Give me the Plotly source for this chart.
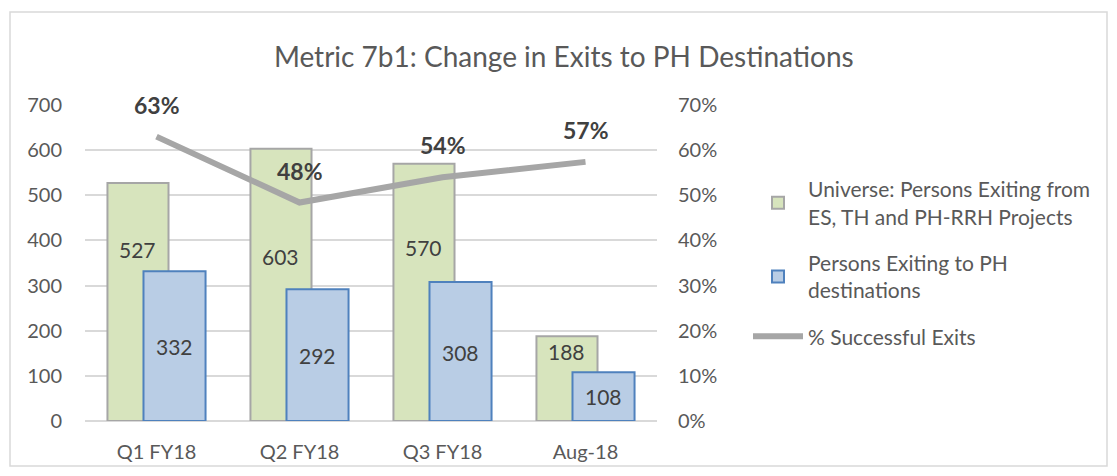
import plotly.graph_objects as go

categories = ["Q1 FY18", "Q2 FY18", "Q3 FY18", "Aug-18"]
universe = [527, 603, 570, 188]
exits_ph = [332, 292, 308, 108]
pct_success = [0.63, 0.484, 0.54, 0.574]
pct_labels = ["63%", "48%", "54%", "57%"]

# where the value labels sit inside the bars (left-axis units)
universe_label_y = [379, 364, 384, 155]
exits_label_y = [164, 144, 151, 55]

FONT = "Lato"
TXT = "#595959"

g_off, g_w = -0.343, 0.427
b_off, b_w = -0.091, 0.434

# plot area geometry (figure pixels; page adds 8px body margin)
L, T, PW, PH = 77, 97, 572, 316

fig = go.Figure()
fig.add_trace(go.Bar(
    x=list(range(4)), y=universe, name="Universe: Persons Exiting from<br>ES, TH and PH-RRH Projects",
    offset=g_off, width=g_w, legendgroup="a",
    marker=dict(color="#D7E4BD", line=dict(color="#A6A6A6", width=2)),
))
fig.add_trace(go.Bar(
    x=list(range(4)), y=exits_ph, name="Persons Exiting to PH<br>destinations",
    offset=b_off, width=b_w, legendgroup="b",
    marker=dict(color="#B9CDE5", line=dict(color="#4F81BD", width=2)),
))
fig.add_trace(go.Scatter(
    x=list(range(4)), y=pct_success, name="% Successful Exits", yaxis="y2",
    mode="lines", line=dict(color="#A6A6A6", width=6), legendgroup="c",
))

ann = []
for i in range(4):
    ann.append(dict(x=i + g_off + g_w / 2, y=universe_label_y[i], xref="x", yref="y",
                    text=str(universe[i]), showarrow=False,
                    font=dict(family=FONT, size=21, color="#404040")))
    ann.append(dict(x=i + b_off + b_w / 2, y=exits_label_y[i], xref="x", yref="y",
                    text=str(exits_ph[i]), showarrow=False,
                    font=dict(family=FONT, size=21, color="#404040")))
    ann.append(dict(x=i, y=pct_success[i], xref="x", yref="y2", yshift=32,
                    text="<b>" + pct_labels[i] + "</b>", showarrow=False,
                    font=dict(family=FONT, size=23, color="#404040")))

fig.update_layout(
    width=1117, height=476,
    margin=dict(l=L, r=1117 - L - PW, t=T, b=476 - T - PH),
    paper_bgcolor="white", plot_bgcolor="white",
    barmode="overlay",
    font=dict(family=FONT, size=20, color=TXT),
    title=dict(text="Metric 7b1: Change in Exits to PH Destinations",
               font=dict(family=FONT, size=28, color=TXT),
               xref="paper", x=0.837, xanchor="center",
               yref="container", y=1 - 49 / 476, yanchor="middle"),
    xaxis=dict(range=[-0.5, 3.5], tickmode="array", tickvals=list(range(4)), ticktext=categories,
               showgrid=False, zeroline=False, showline=False, ticks="",
               ticklabelstandoff=17, tickfont=dict(size=20, color=TXT)),
    yaxis=dict(range=[0, 700], dtick=100, showgrid=True, gridcolor="#D9D9D9", gridwidth=1.5,
               zeroline=True, zerolinecolor="#D9D9D9", zerolinewidth=1.5,
               ticks="", ticklabelstandoff=22, tickfont=dict(size=20, color=TXT)),
    yaxis2=dict(range=[0, 0.7], dtick=0.1, tickformat=".0%", overlaying="y", side="right",
                showgrid=False, zeroline=False, ticks="", ticklabelstandoff=20,
                tickfont=dict(size=20, color=TXT)),
    legend=dict(x=(740 - L) / PW, y=(T + PH - 161) / PH, xanchor="left", yanchor="top",
                font=dict(family=FONT, size=21, color=TXT), traceorder="grouped",
                bgcolor="rgba(0,0,0,0)", tracegroupgap=16, itemwidth=50),
    annotations=ann,
    shapes=[dict(type="rect", xref="paper", yref="paper",
                 x0=(2 - L) / PW, x1=(1099 - L) / PW,
                 y0=(T + PH - 458) / PH, y1=(T + PH - 4) / PH,
                 line=dict(color="#D9D9D9", width=1.5), layer="below")],
    showlegend=True,
)

fig.write_html("out.html")
